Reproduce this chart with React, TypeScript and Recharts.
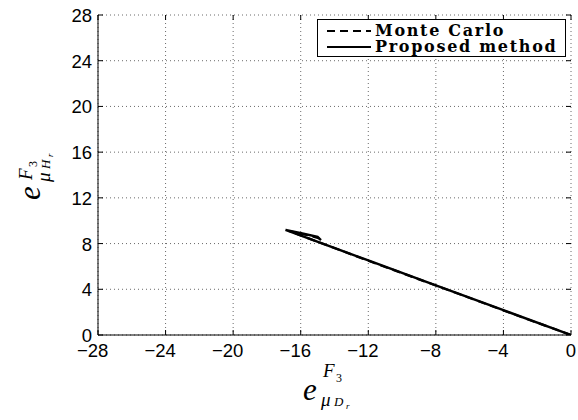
import { LineChart, Line, XAxis, YAxis, CartesianGrid } from "recharts";

// data
const xTicks = [-28, -24, -20, -16, -12, -8, -4, 0];
const yTicks = [0, 4, 8, 12, 16, 20, 24, 28];

const monteCarlo = [
  { x: 0, y: 0 },
  { x: -4, y: 2.15 },
  { x: -8, y: 4.33 },
  { x: -12, y: 6.5 },
  { x: -16.7, y: 9.1 },
  { x: -15.5, y: 8.7 },
  { x: -14.9, y: 8.45 },
];

const proposed = [
  { x: 0, y: 0 },
  { x: -4, y: 2.17 },
  { x: -8, y: 4.35 },
  { x: -12, y: 6.52 },
  { x: -16.9, y: 9.19 },
  { x: -15.9, y: 8.88 },
  { x: -15.0, y: 8.58 },
  { x: -14.8, y: 8.3 },
];

const W = 578;
const H = 420;
const M = { top: 15, right: 7, left: 0, bottom: 0 };
const Y_W = 98;
const X_H = 85;
const PLOT = { left: Y_W, right: W - M.right, top: M.top, bottom: H - X_H };
const TICK_FONT = "Liberation Sans, Arial, sans-serif";
const TICK_SIZE = 18.5;
const MATH_FONT = "Liberation Serif, serif";

// matlab centres the digits on the tick, the minus sign hangs to the left
function XTick(props: any) {
  const { x, payload } = props;
  const v = Number(payload.value);
  const digits = String(Math.abs(v));
  const half = (digits.length * 0.556 * TICK_SIZE) / 2;
  return (
    <g>
      <line x1={x} x2={x} y1={PLOT.bottom} y2={PLOT.bottom - 5} stroke="#000" />
      <line x1={x} x2={x} y1={PLOT.top} y2={PLOT.top + 5} stroke="#000" />
      <text x={x + half} y={PLOT.bottom + 22} textAnchor="end" style={{ fontSize: TICK_SIZE, fontFamily: TICK_FONT }} fill="#000">
        {(v < 0 ? "\u2212" : "") + digits}
      </text>
    </g>
  );
}

function YTick(props: any) {
  const { y, payload } = props;
  return (
    <g>
      <line x1={PLOT.left} x2={PLOT.left + 5} y1={y} y2={y} stroke="#000" />
      <line x1={PLOT.right} x2={PLOT.right - 5} y1={y} y2={y} stroke="#000" />
      <text x={PLOT.left - 6} y={y + 7} textAnchor="end" style={{ fontSize: TICK_SIZE, fontFamily: TICK_FONT }} fill="#000">
        {payload.value}
      </text>
    </g>
  );
}

// e^{F_3}_{mu_{X_r}}
function MathLabel({ sub, supY, subY }: { sub: string; supY: number; subY: number }) {
  const it = (size: number) => ({ fontFamily: MATH_FONT, fontStyle: "italic", fontSize: size });
  return (
    <g fill="#000">
      <text x={0} y={0} style={it(31)}>e</text>
      <text x={20} y={supY} style={it(19)}>F</text>
      <text x={33} y={supY + 5} style={{ fontFamily: MATH_FONT, fontSize: 12 }}>3</text>
      <text x={18} y={subY} style={it(19)}>μ</text>
      <text x={31} y={subY} style={it(13)}>{sub}</text>
      <text x={43} y={subY + 3} style={it(9)}>r</text>
    </g>
  );
}

function LegendBox() {
  const row = { display: "flex", alignItems: "center", height: 16 };
  const txt = {
    fontFamily: "DejaVu Serif, serif",
    fontWeight: 700,
    fontSize: 16,
    letterSpacing: 1.7,
    lineHeight: "16px",
    marginLeft: 4,
    whiteSpace: "nowrap" as const,
  };
  return (
    <div
      style={{
        position: "absolute",
        left: 317,
        top: 19,
        width: 249,
        height: 38,
        border: "1px solid #000",
        background: "#fff",
        boxSizing: "border-box",
        padding: "3px 0 0 9px",
      }}
    >
      <div style={row}>
        <svg width={44} height={10}>
          <line x1={0} x2={44} y1={5} y2={5} stroke="#000" strokeWidth={2} strokeDasharray="8 5" />
        </svg>
        <span style={txt}>Monte Carlo</span>
      </div>
      <div style={row}>
        <svg width={44} height={10}>
          <line x1={0} x2={44} y1={5} y2={5} stroke="#000" strokeWidth={2} />
        </svg>
        <span style={txt}>Proposed method</span>
      </div>
    </div>
  );
}

export default function App() {
  return (
    <div style={{ position: "absolute", left: 0, top: 0, width: W, height: H, background: "#fff" }}>
      <LineChart width={W} height={H} margin={M}>
        <CartesianGrid stroke="#444" strokeWidth={0.8} strokeDasharray="1 3" />
        <XAxis
          type="number"
          dataKey="x"
          domain={[-28, 0]}
          ticks={xTicks}
          height={X_H}
          tick={<XTick />}
          tickLine={false}
          axisLine={{ stroke: "#000" }}
          allowDataOverflow
        />
        <XAxis xAxisId="top" orientation="top" type="number" domain={[-28, 0]} height={0} tick={false} tickLine={false} axisLine={{ stroke: "#000" }} />
        <YAxis
          type="number"
          dataKey="y"
          domain={[0, 28]}
          ticks={yTicks}
          width={Y_W}
          tick={<YTick />}
          tickLine={false}
          axisLine={{ stroke: "#000" }}
          allowDataOverflow
        />
        <YAxis yAxisId="right" orientation="right" type="number" domain={[0, 28]} width={0} tick={false} tickLine={false} axisLine={{ stroke: "#000" }} />
        <Line data={proposed} dataKey="y" type="linear" stroke="#000" strokeWidth={2.4} dot={false} isAnimationActive={false} />
        <Line data={monteCarlo} dataKey="y" type="linear" stroke="#000" strokeWidth={2.2} strokeDasharray="8 5" dot={false} isAnimationActive={false} />
      </LineChart>
      <svg width={W} height={H} style={{ position: "absolute", left: 0, top: 0, pointerEvents: "none" }}>
        <g transform="translate(303,400)">
          <MathLabel sub="D" supY={-23} subY={6} />
        </g>
        <g transform="translate(40,200) rotate(-90)">
          <MathLabel sub="H" supY={-8} subY={10} />
        </g>
      </svg>
      <LegendBox />
    </div>
  );
}
